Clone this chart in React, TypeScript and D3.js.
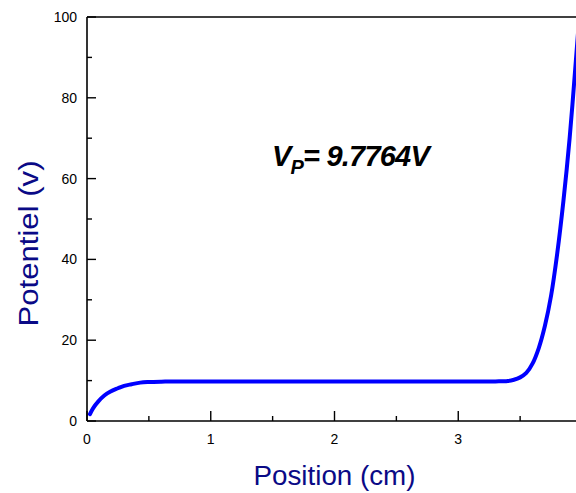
import React from "react";
import * as d3 from "d3";

const positions = [0.024, 0.05, 0.09, 0.14, 0.19, 0.25, 0.3, 0.36, 0.43, 0.5, 0.6, 0.7, 1.0, 1.5, 2.0, 2.5, 3.0, 3.3, 3.4, 3.45, 3.5, 3.55, 3.6, 3.65, 3.7, 3.75, 3.8, 3.85, 3.9, 3.95, 3.98];
const potentials = [1.7, 3.2, 4.8, 6.3, 7.3, 8.1, 8.7, 9.1, 9.5, 9.65, 9.74, 9.78, 9.78, 9.78, 9.78, 9.78, 9.78, 9.8, 9.9, 10.2, 10.8, 11.9, 14.2, 18.0, 23.5, 31.0, 41.5, 54.5, 70.0, 89.0, 101];
const xTicks = [0, 1, 2, 3];
const xMinor = [0.5, 1.5, 2.5, 3.5];
const yTicks = [0, 20, 40, 60, 80, 100];
const yMinor = [10, 30, 50, 70, 90];

const W = 576, H = 493;
const L = 87, T = 17, B = 421, R = 582;
const FONT = "'Liberation Sans', Arial, sans-serif";
const NAVY = "#0a0a86";

export default function App() {
  const x = d3.scaleLinear().domain([0, 4]).range([L, R]);
  const y = d3.scaleLinear().domain([0, 100]).range([B, T]);
  const data = positions.map((p, i) => [p, potentials[i]] as [number, number]);
  const line = d3.line<[number, number]>().x(d => x(d[0])).y(d => y(d[1])).curve(d3.curveCatmullRom.alpha(0.5));
  return (
    <div style={{ position: "absolute", left: 0, top: 0 }}>
      <svg width={W} height={H} style={{ display: "block", background: "#fff" }}>
        <defs>
          <clipPath id="plot"><rect x={L} y={T} width={R - L} height={B - T} /></clipPath>
        </defs>
        <path d={line(data) || ""} fill="none" stroke="#0000ff" strokeWidth={4} strokeLinecap="round" strokeLinejoin="round" clipPath="url(#plot)" />
        <line x1={L} y1={T} x2={L} y2={B} stroke="#000" strokeWidth={1.6} />
        <line x1={L} y1={B} x2={R} y2={B} stroke="#000" strokeWidth={1.6} />
        <line x1={L} y1={T} x2={R} y2={T} stroke="#000" strokeWidth={1.6} />
        <line x1={R} y1={T} x2={R} y2={B} stroke="#000" strokeWidth={1.6} />
        {yTicks.map(t => (
          <g key={"y" + t}>
            <line x1={L} x2={L + 9} y1={y(t)} y2={y(t)} stroke="#000" strokeWidth={1.4} />
            <text x={L - 10} y={y(t)} dy="0.36em" textAnchor="end" fontFamily={FONT} fontSize={14} fill="#000">{t}</text>
          </g>
        ))}
        {yMinor.map(t => (
          <line key={"ym" + t} x1={L} x2={L + 5} y1={y(t)} y2={y(t)} stroke="#000" strokeWidth={1.4} />
        ))}
        {xTicks.map(t => (
          <g key={"x" + t}>
            <line x1={x(t)} x2={x(t)} y1={B} y2={B - 10} stroke="#000" strokeWidth={1.4} />
            <text x={x(t)} y={444} textAnchor="middle" fontFamily={FONT} fontSize={14} fill="#000">{t}</text>
          </g>
        ))}
        {xMinor.map(t => (
          <line key={"xm" + t} x1={x(t)} x2={x(t)} y1={B} y2={B - 5} stroke="#000" strokeWidth={1.4} />
        ))}
        <text x={x(2)} y={485} textAnchor="middle" fontFamily={FONT} fontSize={27} fill={NAVY} textLength={162} lengthAdjust="spacingAndGlyphs">Position (cm)</text>
        <text transform={`translate(37.5,243.5) rotate(-90)`} textAnchor="middle" fontFamily={FONT} fontSize={27.5} fill={NAVY} textLength={166} lengthAdjust="spacingAndGlyphs">Potentiel (v)</text>
        <text x={272} y={166} fontFamily={FONT} fontSize={29} fontWeight="bold" fontStyle="italic" fill="#000" letterSpacing={-0.8}>
          V<tspan fontSize={20} dy={8}>P</tspan><tspan dy={-8}>= 9.7764V</tspan>
        </text>
      </svg>
    </div>
  );
}
